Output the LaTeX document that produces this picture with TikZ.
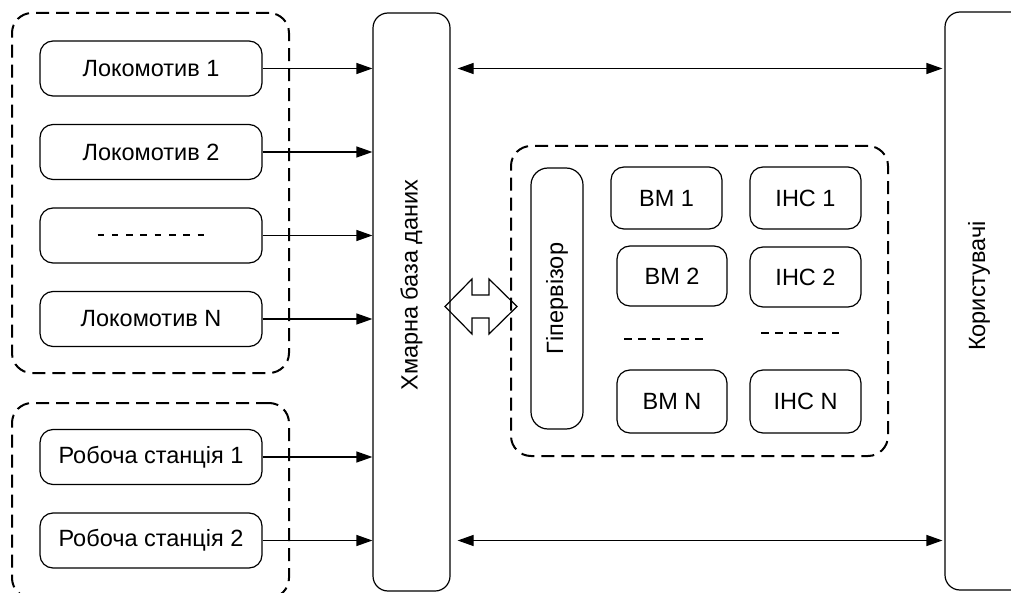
\documentclass[tikz,border=0pt]{standalone}
\usepackage{fontspec}
\setmainfont{Liberation Sans}
\usetikzlibrary{arrows.meta,calc}
\begin{document}
\begin{tikzpicture}[x=1pt,y=-1pt,
  txt/.style={font=\fontsize{23.5}{28}\selectfont},
  box/.style={draw, line width=1.2pt, rounded corners=13pt, inner sep=0pt, txt},
  lbox/.style={box, minimum width=222pt, minimum height=55pt},
  grp/.style={draw, line width=2pt, dash pattern=on 13pt off 7pt, rounded corners=20pt, inner sep=0pt},
  tall/.style={draw, line width=1.2pt, rounded corners=15pt, inner sep=0pt},
  arr/.style={line width=1.2pt, -{Triangle[length=16pt,width=11pt]}},
  darr/.style={line width=1.2pt, {Triangle[length=16pt,width=11pt]}-{Triangle[length=16pt,width=11pt]}},
  dotline/.style={line width=2pt}
]
\useasboundingbox (0,0) rectangle (1011,593);
\clip (0,0) rectangle (1011,593);

% groups
\node[grp, minimum width=277pt, minimum height=360pt] (g1) at (150.5,193) {};
\node[grp, minimum width=277pt, minimum height=195pt] (g2) at (150.5,500.5) {};
\node[grp, minimum width=377pt, minimum height=310pt] (g3) at (699.5,301) {};

% left boxes
\node[lbox] (l1) at (151,68.5) {Локомотив 1};
\node[lbox] (l2) at (151,152) {Локомотив 2};
\node[lbox] (l3) at (151,235.5) {};
\node[lbox] (l4) at (151,319) {Локомотив N};
\node[lbox] (w1) at (151,457) {Робоча станція 1};
\node[lbox] (w2) at (151,540.5) {Робоча станція 2};
\draw[dotline, dash pattern=on 6.5pt off 7.8pt] ($(l3.center)+(-53.5,0)$) -- ++(107,0);

% tall boxes
\node[tall, minimum width=77pt, minimum height=578pt] (db) at (411.5,302) {};
\node[txt, rotate=90] (dbt) at (411.5,285) {Хмарна база даних};
\node[tall, minimum width=90pt, minimum height=578pt] (users) at (990,301) {};
\node[txt, rotate=90] (ust) at (979,286) {Користувачі};

% arrows into db
\foreach \n in {l1,l2,l3,l4,w1,w2}
  \draw[arr] (\n.east) -- (\n.east -| db.west);

% double arrows db <-> users
\draw[darr, shorten <=7pt, shorten >=2pt] (db.east |- l1.east) -- (users.west |- l1.east);
\draw[darr, shorten <=7pt, shorten >=2pt] (db.east |- w2.east) -- (users.west |- w2.east);

% inner group
\node[tall, rounded corners=17pt, minimum width=52pt, minimum height=261pt] (hyp) at (557,298.5) {};
\node[txt, rotate=90] (hypt) at (hyp.center) {Гіпервізор};
\node[box, minimum width=111pt, minimum height=62pt] (vm1) at (666.5,198) {ВМ 1};
\node[box, minimum width=111pt, minimum height=62pt] (ihc1) at (805.5,198) {ІНС 1};
\node[box, minimum width=110pt, minimum height=60pt] (vm2) at (672,276) {ВМ 2};
\node[box, minimum width=111pt, minimum height=60pt] (ihc2) at (805.5,277) {ІНС 2};
\node[box, minimum width=110pt, minimum height=63pt] (vmn) at (672,401.5) {ВМ N};
\node[box, minimum width=111pt, minimum height=63pt] (ihcn) at (805.5,401.5) {ІНС N};
\draw[dotline, dash pattern=on 8pt off 6.2pt] (624,339) -- (703,339);
\draw[dotline, dash pattern=on 8pt off 6.2pt] (761,333) -- (839,333);

% hollow double arrow between db and hypervisor group
\coordinate (dc) at (481,306.5);
\draw[line width=1.2pt, line join=miter] ([shift={(-36,0)}]dc) -- ++(27,-27.5) -- ++(0,16) -- ++(17,0) -- ++(0,-16)
  -- ++(28,27.5) -- ++(-28,27.5) -- ++(0,-16) -- ++(-17,0) -- ++(0,16) -- cycle;
\end{tikzpicture}
\end{document}
